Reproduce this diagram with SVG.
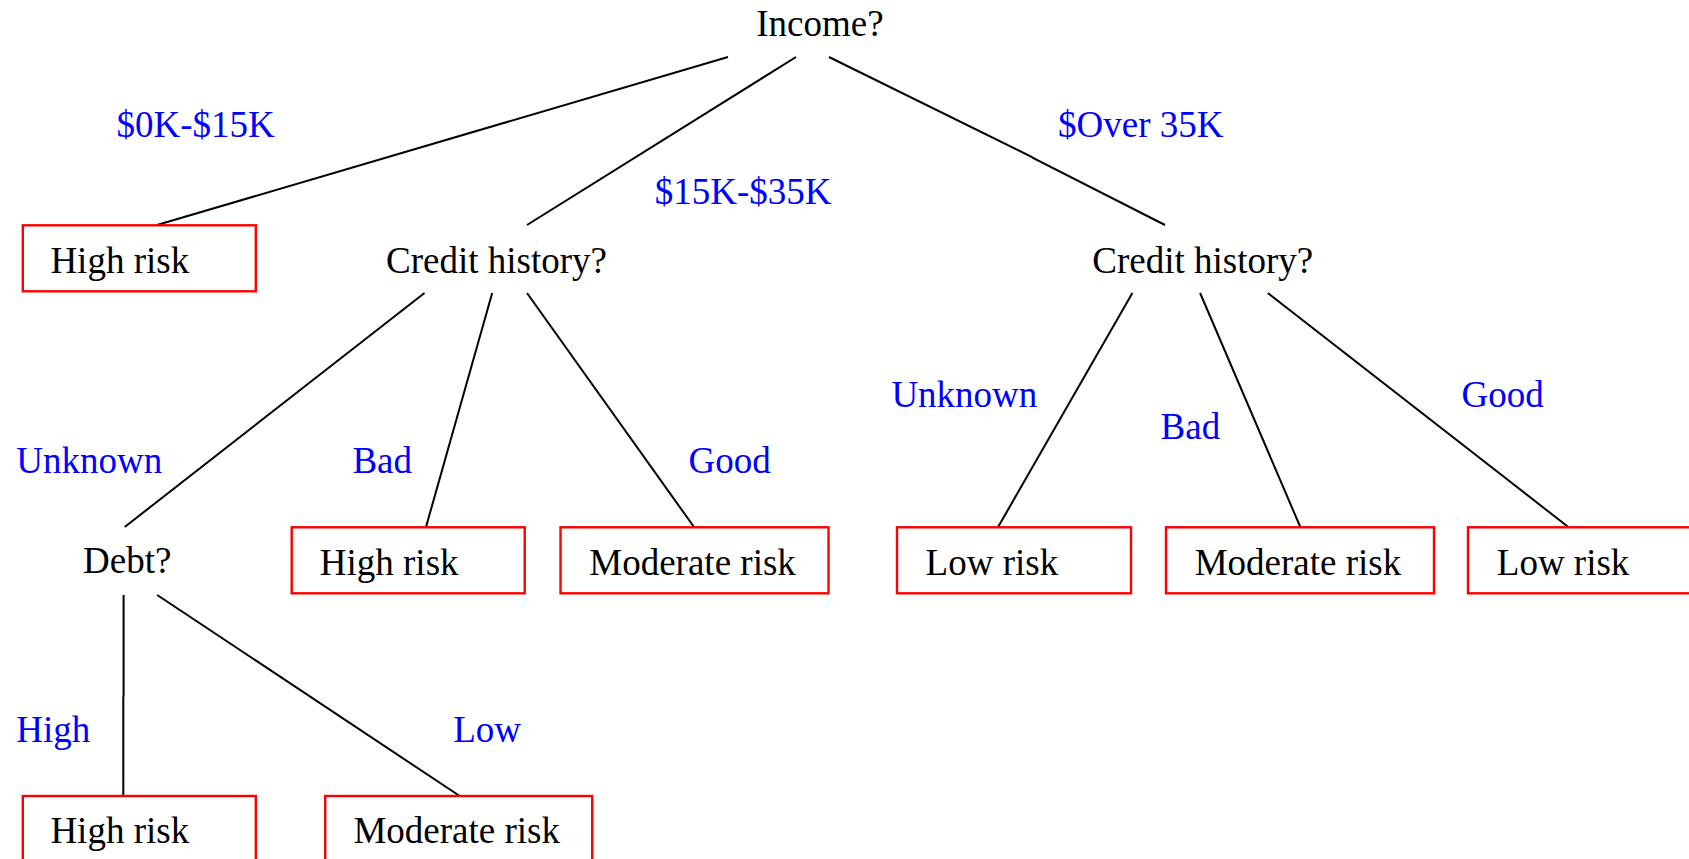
<svg xmlns="http://www.w3.org/2000/svg" width="1689" height="859" viewBox="0 0 1689 859">
  <style>
    text { font-family: "Liberation Serif", "Times New Roman", serif; font-size: 37px; }
    .q { fill: #000000; }
    .lbl { fill: #0000ff; }
    .leaf rect { fill: #ffffff; stroke: #ff0000; stroke-width: 2.4; }
    .leaf text { fill: #000000; }
    #edges line, #edges polyline { stroke: #000000; stroke-width: 2; fill: none; }
  </style>
  <rect width="1689" height="859" fill="#ffffff"/>

  <!-- branches between tests and outcomes -->
  <g id="edges">
    <line x1="728" y1="57" x2="157" y2="225"/>
    <line x1="796" y1="57" x2="527" y2="225"/>
    <polyline points="829,57 1032,157 1033,158 1165,225"/>
    <line x1="424.5" y1="293" x2="124.7" y2="527"/>
    <line x1="492.2" y1="293" x2="426" y2="527"/>
    <line x1="527" y1="293" x2="694" y2="527"/>
    <line x1="1132.4" y1="293" x2="998.1" y2="527"/>
    <line x1="1200.1" y1="293" x2="1300.3" y2="527"/>
    <line x1="1267.8" y1="293" x2="1568.3" y2="527"/>
    <polyline points="123.6,595 123.6,696 123.3,697 123.3,796"/>
    <line x1="157.2" y1="595" x2="459.7" y2="796"/>
  </g>

  <!-- branch labels -->
  <g id="labels">
    <text class="lbl" x="116.5" y="137">$0K-$15K</text>
    <text class="lbl" x="654.8" y="204">$15K-$35K</text>
    <text class="lbl" x="1058" y="137">$Over 35K</text>
    <text class="lbl" x="16.3" y="473">Unknown</text>
    <text class="lbl" x="352.4" y="473">Bad</text>
    <text class="lbl" x="688.5" y="473">Good</text>
    <text class="lbl" x="891.4" y="407">Unknown</text>
    <text class="lbl" x="1160.6" y="439">Bad</text>
    <text class="lbl" x="1461.6" y="407">Good</text>
    <text class="lbl" x="16.3" y="742">High</text>
    <text class="lbl" x="453.2" y="742">Low</text>
  </g>

  <!-- test nodes -->
  <g id="income"><text class="q" x="756.2" y="35.7">Income?</text></g>
  <g id="credit-mid"><text class="q" x="386" y="273">Credit history?</text></g>
  <g id="credit-high"><text class="q" x="1092.3" y="273">Credit history?</text></g>
  <g id="debt"><text class="q" x="83" y="573.3">Debt?</text></g>

  <!-- outcome nodes -->
  <g id="leaf-low-income" class="leaf">
    <rect x="22.8" y="225.3" width="233" height="66"/>
    <text x="50.4" y="273">High risk</text>
  </g>
  <g id="leaf-bad-mid" class="leaf">
    <rect x="291.7" y="527.3" width="233" height="66"/>
    <text x="319.8" y="575">High risk</text>
  </g>
  <g id="leaf-good-mid" class="leaf">
    <rect x="560.5" y="527.3" width="268" height="66"/>
    <text x="589.3" y="575">Moderate risk</text>
  </g>
  <g id="leaf-unknown-high" class="leaf">
    <rect x="897" y="527.3" width="234" height="66"/>
    <text x="925.6" y="575">Low risk</text>
  </g>
  <g id="leaf-bad-high" class="leaf">
    <rect x="1166" y="527.3" width="268" height="66"/>
    <text x="1194.7" y="575">Moderate risk</text>
  </g>
  <g id="leaf-good-high" class="leaf">
    <rect x="1468" y="527.3" width="234" height="66"/>
    <text x="1496.8" y="575">Low risk</text>
  </g>
  <g id="leaf-debt-high" class="leaf">
    <rect x="22.8" y="796" width="233" height="66"/>
    <text x="50.4" y="843.3">High risk</text>
  </g>
  <g id="leaf-debt-low" class="leaf">
    <rect x="325.2" y="796" width="267" height="66"/>
    <text x="353.4" y="843.3">Moderate risk</text>
  </g>
</svg>
